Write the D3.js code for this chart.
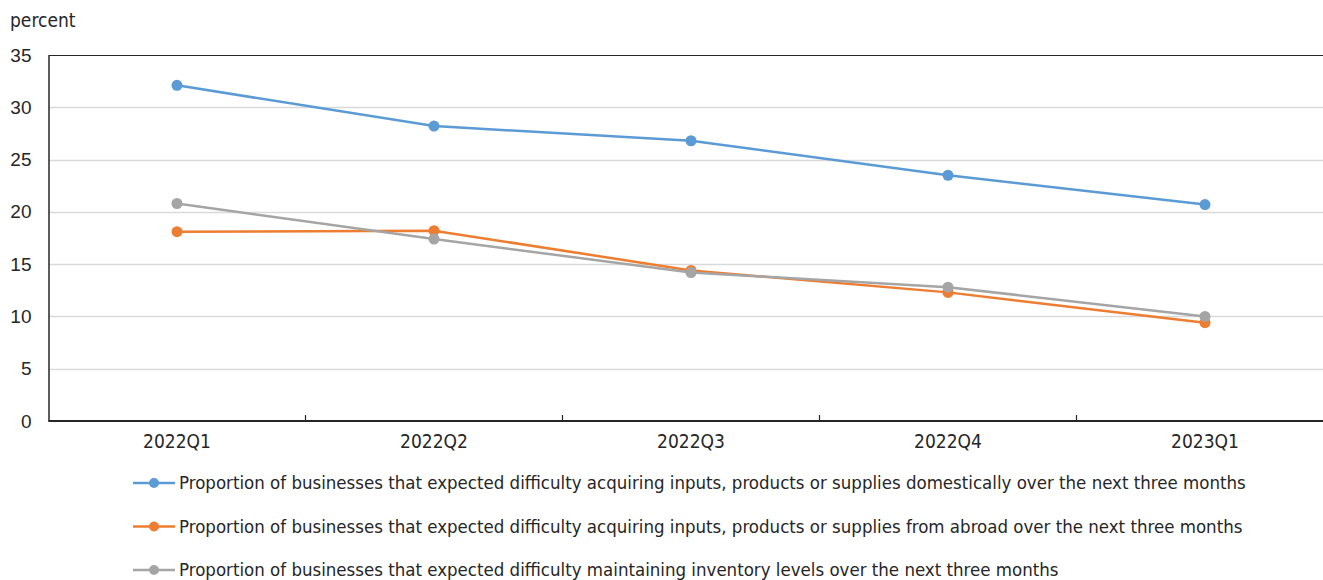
<!DOCTYPE html>
<html>
<head>
<meta charset="utf-8">
<script src="https://cdn.jsdelivr.net/npm/d3@7"></script>
<style>
  body { margin: 0; background: #fff; }
  svg { display: block; font-family: "Liberation Sans Narrow", "Arial Narrow", "DejaVu Sans Condensed", sans-serif; }
</style>
</head>
<body>
<svg id="chart" width="1323" height="580"></svg>
<script>
var categories = ["2022Q1", "2022Q2", "2022Q3", "2022Q4", "2023Q1"];
var domesticValues = [32.1, 28.2, 26.8, 23.5, 20.7];
var abroadValues = [18.1, 18.2, 14.4, 12.3, 9.4];
var inventoryValues = [20.8, 17.4, 14.2, 12.8, 10.0];
var yTicks = [0, 5, 10, 15, 20, 25, 30, 35];
var seriesNames = [
  "Proportion of businesses that expected difficulty acquiring inputs, products or supplies domestically over the next three months",
  "Proportion of businesses that expected difficulty acquiring inputs, products or supplies from abroad over the next three months",
  "Proportion of businesses that expected difficulty maintaining inventory levels over the next three months"
];
var colors = ["#5B9BD5", "#ED7D31", "#A5A5A5"];

var series = [domesticValues, abroadValues, inventoryValues].map(function (v, i) {
  return { name: seriesNames[i], color: colors[i], values: v };
});

var margin = { top: 55, left: 48.5, bottom: 421 };
var svg = d3.select("#chart");
var textColor = "#262626";

var x = d3.scaleBand()
  .domain(categories)
  .range([margin.left, 1333.5]);
var y = d3.scaleLinear()
  .domain([0, 35])
  .range([margin.bottom, margin.top]);

// gridlines
svg.append("g")
  .selectAll("line")
  .data(yTicks.filter(function (d) { return d > 0 && d < 35; }))
  .join("line")
  .attr("x1", margin.left)
  .attr("x2", 1323)
  .attr("y1", function (d) { return Math.round(y(d)) + 0.5; })
  .attr("y2", function (d) { return Math.round(y(d)) + 0.5; })
  .attr("stroke", "#d9d9d9")
  .attr("stroke-width", 1.5);

// top border
svg.append("line")
  .attr("x1", margin.left).attr("x2", 1323)
  .attr("y1", y(35) + 0.5).attr("y2", y(35) + 0.5)
  .attr("stroke", "#262626").attr("stroke-width", 1.2);

// y axis
var yAxis = svg.append("g")
  .attr("transform", "translate(" + margin.left + ",0)")
  .call(d3.axisLeft(y).tickValues(yTicks).tickSize(0).tickPadding(17));
yAxis.select(".domain").attr("stroke", "#262626").attr("stroke-width", 1.5);
yAxis.selectAll("text").attr("font-size", "19px").attr("fill", textColor);

// x axis
var xAxis = svg.append("g")
  .attr("transform", "translate(0," + margin.bottom + ")");
xAxis.append("line")
  .attr("x1", margin.left).attr("x2", 1323)
  .attr("y1", 0).attr("y2", 0)
  .attr("stroke", "#262626").attr("stroke-width", 2);
xAxis.selectAll("line.tick")
  .data(categories.slice(1))
  .join("line")
  .attr("class", "tick")
  .attr("x1", function (d) { return x(d); })
  .attr("x2", function (d) { return x(d); })
  .attr("y1", 0).attr("y2", -6)
  .attr("stroke", "#262626").attr("stroke-width", 1.2);
xAxis.selectAll("text")
  .data(categories)
  .join("text")
  .attr("x", function (d) { return x(d) + x.bandwidth() / 2; })
  .attr("y", 27)
  .attr("text-anchor", "middle")
  .attr("font-size", "19px")
  .attr("fill", textColor)
  .text(function (d) { return d; });

// "percent" label
svg.append("text")
  .attr("x", 10).attr("y", 27)
  .attr("font-size", "19px")
  .attr("fill", textColor)
  .text("percent");

// lines and markers
var line = d3.line()
  .x(function (d, i) { return x(categories[i]) + x.bandwidth() / 2; })
  .y(function (d) { return y(d); });

series.forEach(function (s) {
  svg.append("path")
    .datum(s.values)
    .attr("fill", "none")
    .attr("stroke", s.color)
    .attr("stroke-width", 2.5)
    .attr("d", line);
  svg.append("g")
    .selectAll("circle")
    .data(s.values)
    .join("circle")
    .attr("cx", function (d, i) { return x(categories[i]) + x.bandwidth() / 2; })
    .attr("cy", function (d) { return y(d); })
    .attr("r", 5.5)
    .attr("fill", s.color);
});

// legend
var legend = svg.append("g")
  .selectAll("g")
  .data(series)
  .join("g")
  .attr("transform", function (d, i) { return "translate(133," + (483 + i * 43.5) + ")"; });
legend.append("line")
  .attr("x1", 0).attr("x2", 42)
  .attr("stroke", function (d) { return d.color; })
  .attr("stroke-width", 2.5);
legend.append("circle")
  .attr("cx", 21).attr("r", 5)
  .attr("fill", function (d) { return d.color; });
legend.append("text")
  .attr("x", 46).attr("dy", "0.35em")
  .attr("font-size", "18.5px")
  .attr("fill", textColor)
  .text(function (d) { return d.name; });
</script>
</body>
</html>
